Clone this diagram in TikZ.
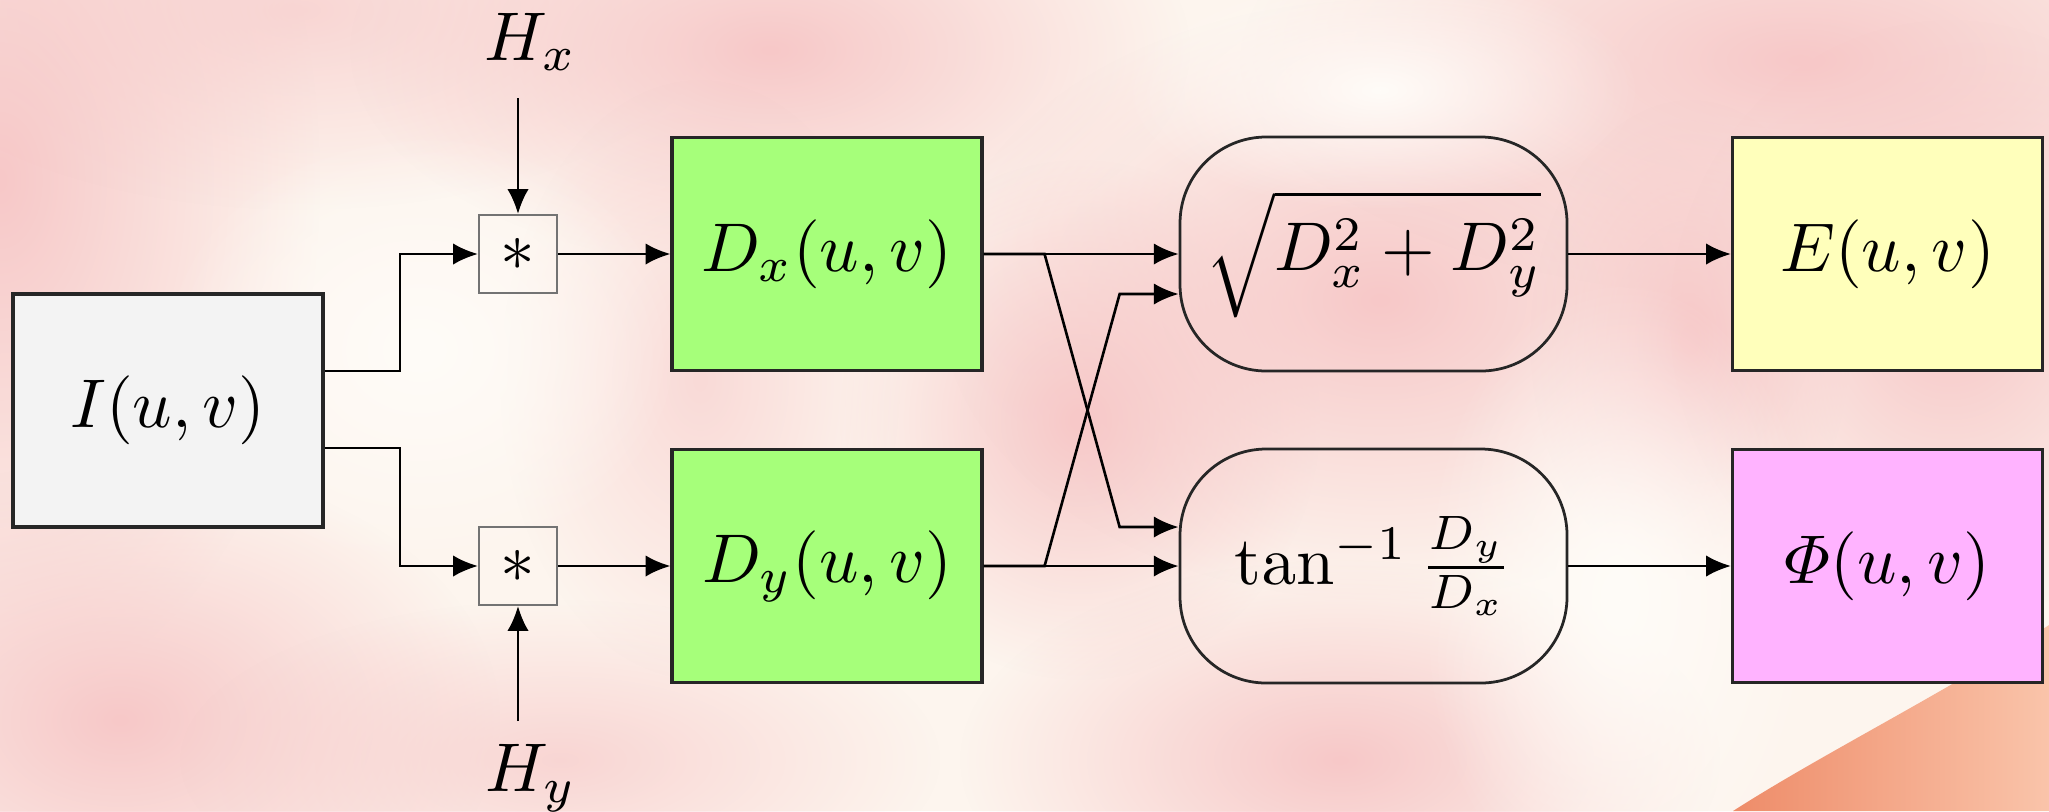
\documentclass[tikz,border=0pt]{standalone}
\usepackage{amsmath}
\usetikzlibrary{arrows.meta,fadings,calc}
\tikzfading[name=softblob, inner color=transparent!0, outer color=transparent!100]
\definecolor{bgcream}{RGB}{253,245,238}
\definecolor{blobpink}{RGB}{247,200,200}
\definecolor{blobwhite}{RGB}{255,252,248}
\definecolor{boxgray}{RGB}{243,243,243}
\definecolor{boxgreen}{RGB}{166,255,122}
\definecolor{boxyellow}{RGB}{255,255,187}
\definecolor{boxpink}{RGB}{255,179,255}
\definecolor{wedgeA}{RGB}{238,140,105}
\definecolor{wedgeB}{RGB}{250,196,170}
\begin{document}
\begin{tikzpicture}[x=0.145pt,y=-0.145pt,
  block/.style={draw=black!85, line width=0.45pt, minimum width=310*0.145pt, minimum height=233*0.145pt, inner sep=0pt},
  conv/.style={draw=black!55, line width=0.3pt, minimum width=78*0.145pt, minimum height=78*0.145pt, inner sep=0pt},
  roundbox/.style={draw=black!85, line width=0.4pt, rounded corners=12.5pt, minimum width=387*0.145pt, minimum height=234*0.145pt, inner sep=0pt},
  conn/.style={line width=0.38pt, -{Latex[length=3.6pt,width=3.1pt]}},
  blob/.style={fill=blobpink, path fading=softblob},
  wblob/.style={fill=blobwhite, path fading=softblob}]
% background
\fill[bgcream] (0,0) rectangle (2049,811);
\useasboundingbox (0,0) rectangle (2049,811);
\fill[blob] (0,180) ellipse (320 and 520);
\fill[blob, opacity=0.7] (300,10) ellipse (420 and 200);
\fill[blob] (770,50) ellipse (420 and 220);
\fill[blob] (1080,420) ellipse (240 and 260);
\fill[blob] (1380,300) ellipse (440 and 300);
\fill[blob] (1800,60) ellipse (560 and 240);
\fill[blob] (1690,340) ellipse (160 and 240);
\fill[blob] (1950,320) ellipse (280 and 300);
\fill[blob] (120,720) ellipse (380 and 260);
\fill[blob, opacity=0.7] (560,760) ellipse (380 and 160);
\fill[blob] (1340,760) ellipse (380 and 200);
\fill[blob, opacity=0.6] (700,380) ellipse (200 and 300);
\fill[wblob] (1380,90) ellipse (260 and 120);
\fill[wblob] (420,350) ellipse (260 and 220);
\fill[wblob] (1620,600) ellipse (200 and 320);
\shade[left color=wedgeA, right color=wedgeB] (1733,811) .. controls (1820,755) and (1950,690) .. (2049,625) -- (2049,811) -- cycle;
% nodes
\node[block, fill=boxgray] (I) at (168,410.5) {$I(u,v)$};
\node[conv] (sx) at (518,254) {$\ast$};
\node[conv] (sy) at (518,566) {$\ast$};
\node[block, fill=boxgreen] (dx) at (827,254) {$D_x(u,v)$};
\node[block, fill=boxgreen] (dy) at (827,566) {$D_y(u,v)$};
\node[roundbox] (mag) at (1373.5,254) {$\sqrt{D_x^2+D_y^2}$};
\node[roundbox] (ang) at (1373.5,566) {$\tan^{-1}\frac{D_y}{D_x}$};
\node[block, fill=boxyellow] (E) at (1887.5,254) {$E(u,v)$};
\node[block, fill=boxpink] (P) at (1887.5,566) {$\varPhi(u,v)$};
\node (hx) at (531,42) {$H_x$};
\node (hy) at (531,778) {$H_y$};
\coordinate (hxs) at (518,98);
\coordinate (hys) at (518,721);
% connectors
\draw[conn] ($(I.east)+(0,-39.5)$) -| ($(sx.west)+(-78,0)$) -- (sx.west);
\draw[conn] ($(I.east)+(0,37.5)$) -| ($(sy.west)+(-78,0)$) -- (sy.west);
\draw[conn] (hxs) -- (sx.north);
\draw[conn] (hys) -- (sy.south);
\draw[conn] (sx) -- (dx);
\draw[conn] (sy) -- (dy);
\draw[conn] (dx) -- (mag);
\draw[conn] (dy) -- (ang);
\draw[conn] (dx.east) -- ++(61,0) -- ($(ang.west)+(-59,-39)$) -- ($(ang.west)+(0,-39)$);
\draw[conn] (dy.east) -- ++(61,0) -- ($(mag.west)+(-59,40)$) -- ($(mag.west)+(0,40)$);
\draw[conn] (mag) -- (E);
\draw[conn] (ang) -- (P);
\end{tikzpicture}
\end{document}
